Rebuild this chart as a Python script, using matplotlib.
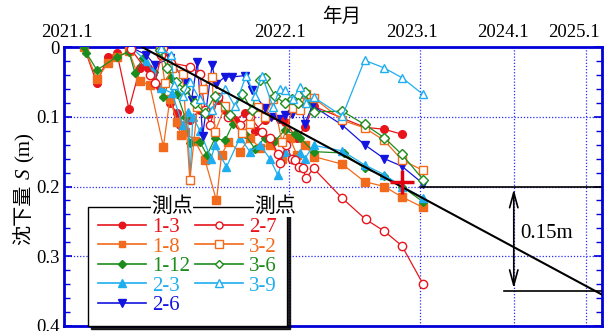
import matplotlib
matplotlib.use("Agg")
import matplotlib.pyplot as plt
from matplotlib.lines import Line2D
from matplotlib.patches import FancyArrowPatch
from matplotlib.ticker import FixedLocator, NullLocator, MultipleLocator
from matplotlib.transforms import ScaledTranslation

plt.rcParams["font.family"] = ["Liberation Serif", "Noto Sans CJK JP"]

# elapsed months since 2021.1 and settlement S (m) for each survey point
t_1_3 = [0.76, 1.28, 1.74, 2.13, 2.66, 3.17, 3.55, 4.13, 4.63, 5.0, 5.16, 5.69, 6.24, 6.7, 7.3, 7.7,
         8.3, 8.96, 9.6, 10.3, 11.34, 11.7, 12.6, 13.2, 13.9, 18.3, 20.2, 22.0]
s_1_3 = [0.0, 0.052, 0.014, 0.009, 0.089, 0.03, 0.03, 0.057, 0.08, 0.095, 0.112, 0.105, 0.09, 0.096, 0.076, 0.09,
         0.105, 0.095, 0.12, 0.105, 0.103, 0.107, 0.131, 0.115, 0.085, 0.115, 0.118, 0.125]

t_1_8 = [0.76, 1.28, 1.74, 2.13, 2.66, 3.17, 3.64, 4.3, 4.63, 5.0, 5.2, 5.42, 5.97, 6.53, 7.2, 7.5,
         7.9, 8.64, 9.28, 9.95, 10.63, 11.5, 12.07, 12.6, 13.2, 13.9, 16.3, 18.3, 20.2, 22.0, 24.3]
s_1_8 = [0.0, 0.046, 0.023, 0.014, 0.006, 0.049, 0.055, 0.143, 0.075, 0.107, 0.126, 0.122, 0.135, 0.162, 0.22, 0.155,
         0.136, 0.15, 0.13, 0.145, 0.14, 0.16, 0.13, 0.155, 0.14, 0.157, 0.168, 0.193, 0.2, 0.215, 0.23]

t_1_12 = [0.76, 0.85, 1.28, 2.13, 2.66, 2.93, 3.3, 3.85, 4.3, 4.63, 5.0, 5.42, 5.69, 6.24, 6.65, 7.11,
          7.71, 8.2, 8.96, 9.61, 10.29, 10.99, 11.7, 12.45, 12.83, 13.9, 16.4, 18.3, 20.2, 22.0, 24.3]
s_1_12 = [0.0, 0.008, 0.033, 0.014, 0.007, 0.037, 0.016, 0.036, 0.072, 0.045, 0.067, 0.1, 0.138, 0.136, 0.155, 0.131,
          0.134, 0.11, 0.125, 0.146, 0.13, 0.135, 0.119, 0.125, 0.13, 0.15, 0.152, 0.174, 0.185, 0.2, 0.222]

t_2_3 = [2.75, 3.45, 3.8, 4.2, 4.74, 5.3, 5.56, 5.69, 5.85, 6.24, 6.88, 7.11, 7.8, 8.64, 9.28, 9.95,
         10.63, 11.2, 11.7, 12.45, 12.83, 13.21, 13.9, 16.3, 18.3, 20.2, 22.0, 24.3]
s_2_3 = [0.0, 0.02, 0.035, 0.059, 0.066, 0.112, 0.093, 0.19, 0.1, 0.12, 0.16, 0.141, 0.172, 0.13, 0.15, 0.14,
         0.16, 0.184, 0.15, 0.16, 0.152, 0.16, 0.141, 0.149, 0.169, 0.183, 0.2, 0.216]

t_2_6 = [2.72, 3.45, 3.88, 4.63, 5.42, 5.78, 6.1, 6.4, 6.94, 7.17, 7.71, 8.13, 8.96, 9.4, 10.29, 10.74,
         11.2, 11.7, 12.22, 12.98, 13.21, 13.8, 16.3, 18.3, 20.2, 22.0, 24.3]
s_2_6 = [0.0, 0.011, 0.026, 0.016, 0.05, 0.076, 0.021, 0.127, 0.026, 0.053, 0.043, 0.043, 0.041, 0.062, 0.088, 0.1,
         0.103, 0.098, 0.096, 0.088, 0.11, 0.084, 0.112, 0.14, 0.16, 0.171, 0.196]

t_2_7 = [2.75, 3.64, 3.88, 4.2, 4.3, 4.7, 5.69, 6.24, 6.53, 6.82, 7.3, 7.9, 8.64, 9.28, 10.1, 10.63,
         11.2, 11.34, 11.8, 12.22, 12.45, 12.75, 13.05, 13.3, 13.9, 16.3, 18.4, 20.2, 22.0, 24.3]
s_2_7 = [0.003, 0.04, 0.052, 0.011, 0.002, 0.023, 0.028, 0.038, 0.09, 0.112, 0.072, 0.1, 0.112, 0.1, 0.122, 0.13,
         0.153, 0.167, 0.14, 0.16, 0.162, 0.172, 0.174, 0.188, 0.174, 0.217, 0.247, 0.264, 0.285, 0.34]

t_3_2 = [4.13, 4.38, 4.74, 5.3, 5.69, 6.1, 6.4, 6.94, 7.11, 7.71, 8.8, 9.28, 9.8, 10.29, 10.85, 11.5,
         12.3, 12.83, 13.3, 13.9, 16.3, 18.3, 20.2, 22.0, 24.3]
s_3_2 = [0.003, 0.052, 0.03, 0.039, 0.191, 0.086, 0.06, 0.043, 0.122, 0.085, 0.124, 0.11, 0.086, 0.1, 0.074, 0.136,
         0.088, 0.09, 0.067, 0.073, 0.105, 0.116, 0.134, 0.162, 0.177]

t_3_6 = [4.13, 4.5, 4.95, 5.42, 5.97, 6.53, 7.11, 8.0, 8.8, 9.4, 9.95, 10.29, 10.99, 11.7, 12.22, 12.7,
         13.2, 13.9, 16.3, 18.3, 20.2, 22.0, 24.3]
s_3_6 = [0.005, 0.03, 0.05, 0.06, 0.08, 0.095, 0.07, 0.098, 0.067, 0.09, 0.048, 0.045, 0.07, 0.081, 0.075, 0.081,
         0.065, 0.093, 0.092, 0.111, 0.13, 0.154, 0.19]

t_3_9 = [4.18, 4.7, 4.84, 5.3, 5.69, 6.24, 6.94, 7.71, 8.32, 9.04, 9.61, 10.1, 10.85, 11.34, 11.7, 12.3,
         12.83, 13.3, 13.9, 16.3, 18.3, 20.2, 22.0, 24.3]
s_3_9 = [0.002, 0.012, 0.055, 0.07, 0.05, 0.075, 0.09, 0.06, 0.085, 0.041, 0.07, 0.041, 0.086, 0.06, 0.062, 0.075,
         0.057, 0.08, 0.072, 0.099, 0.019, 0.03, 0.044, 0.068]

point_names = ["1-3", "1-8", "1-12", "2-3", "2-6", "2-7", "3-2", "3-6", "3-9"]
times = [t_1_3, t_1_8, t_1_12, t_2_3, t_2_6, t_2_7, t_3_2, t_3_6, t_3_9]
settlements = [s_1_3, s_1_8, s_1_12, s_2_3, s_2_6, s_2_7, s_3_2, s_3_6, s_3_9]

# settlement trend line (years since 2020.1, S)
trend_x = [1.2716, 5.25]
trend_s = [0.0, 0.355]
# predicted point
pred_x = [2.833]
pred_s = [0.193]
# allowance band
limit_s = 0.2
final_s = 0.35
limit_start_x = 3.0
final_start_x = 3.878
arrow_x = 4.0

year_ticks = [1, 2, 3, 4, 5]
year_labels = ["2021.1", "2022.1", "2023.1", "2024.1", "2025.1"]
year_label_shift_px = [3, -9, -8, -11, -12]

RED = "#e8141c"
ORANGE = "#f26a1b"
GREEN = "#1c8c1c"
CYAN = "#1eaef0"
BLUE = "#1414e0"
colors = [RED, ORANGE, GREEN, CYAN, BLUE, RED, ORANGE, GREEN, CYAN]
markers = ["o", "s", "D", "^", "v", "o", "s", "D", "^"]
filled = [True, True, True, True, True, False, False, False, False]
sizes = [5.5, 5.5, 4.5, 6, 6, 6, 6, 5, 6]
AX_BLUE = "#0000d8"

fig = plt.figure(figsize=(6.09, 3.31), dpi=100)
ax = fig.add_axes([64 / 609, 1 - 326 / 331, 538 / 609, 279 / 331])

for name, tm, s, c, m, f, ms in zip(point_names, times, settlements, colors, markers, filled, sizes):
    x = [1 + v / 12 for v in tm]
    ax.plot(x, s, color=c, lw=0.9, marker=m, ms=ms, mec=c, mew=1.0,
            mfc=c if f else "white", zorder=3)

ax.plot(trend_x, trend_s, color="black", lw=1.5, zorder=4)
ax.plot([limit_start_x, 5.25], [limit_s, limit_s], color="black", lw=1.2, zorder=4)
ax.plot([final_start_x, 5.25], [final_s, final_s], color="black", lw=1.2, zorder=4)
ax.plot(pred_x, pred_s, marker="+", ms=17, mew=2.5, color="#e00010", ls="none", zorder=6)

arr = FancyArrowPatch((arrow_x, limit_s), (arrow_x, final_s),
                      arrowstyle="<->,head_length=1.1,head_width=0.3",
                      mutation_scale=10, color="black", lw=1.2, zorder=5)
ax.add_patch(arr)
ax.text(4.08, (limit_s + final_s) / 2 - 0.007, "0.15m", fontsize=15, ha="left", va="center")

ax.set_xscale("log")
ax.set_xlim(1, 5.25)
ax.set_ylim(0.4, 0.0)
ax.xaxis.set_major_locator(FixedLocator(year_ticks))
ax.xaxis.set_minor_locator(NullLocator())
ax.set_xticklabels(year_labels)
ax.xaxis.tick_top()
ax.tick_params(axis="x", which="both", length=0, labelsize=13.5, pad=4)

ax.yaxis.set_major_locator(MultipleLocator(0.1))
ax.yaxis.set_minor_locator(MultipleLocator(0.02))
ax.set_yticks([0, 0.1, 0.2, 0.3, 0.4])
ax.set_yticklabels(["0", "0.1", "0.2", "0.3", "0.4"])
ax.tick_params(axis="y", which="major", direction="in", length=6, width=1.2,
               color=AX_BLUE, labelsize=13.5, left=True, right=True, pad=3)
ax.tick_params(axis="y", which="minor", direction="in", length=4, width=1.0,
               color=AX_BLUE, left=True, right=True)

ax.grid(True, which="major", color="#2a2aff", linestyle=(0, (1, 1.5)), linewidth=0.9)
for sp in ax.spines.values():
    sp.set_color(AX_BLUE)
    sp.set_linewidth(2.0)

# year labels sit slightly left of their grid lines
for tick, dx in zip(ax.xaxis.get_major_ticks(), year_label_shift_px):
    lab = tick.label2
    lab.set_transform(lab.get_transform() + ScaledTranslation(dx / 100, 0, fig.dpi_scale_trans))

fig.text(342 / 609, 1 - 17 / 331, "年月", fontsize=14, ha="center", va="center")

# vertical axis title: 沈下量 S (m), with italic S
fig.text(24 / 609, 1 - 215 / 331, "沈下量", fontsize=14.5, rotation=90,
         ha="center", va="center", family="Noto Sans CJK JP")
fig.text(25 / 609, 1 - 174 / 331, "S", fontsize=15, rotation=90, style="italic",
         ha="center", va="center", family="Liberation Serif")
fig.text(25 / 609, 1 - 147 / 331, "(m)", fontsize=15, rotation=90,
         ha="center", va="center", family="Liberation Serif")

handles = []
for c, m, f, ms in zip(colors, markers, filled, sizes):
    handles.append(Line2D([], [], color=c, lw=1.2, marker=m, ms=ms * 0.85, mec=c,
                          mfc=c if f else "white", mew=1.0))
leg = ax.legend(handles, point_names, ncol=2, loc="upper left",
                bbox_to_anchor=(88 / 609, 1 - 207 / 331), bbox_transform=fig.transFigure,
                borderaxespad=0, fontsize=15, handlelength=2.3, handletextpad=0.3,
                columnspacing=0.2, labelspacing=0.0, borderpad=0.5,
                fancybox=False, edgecolor="black", framealpha=1,
                shadow={"ox": 2, "oy": -2, "color": "black", "alpha": 0.85})
leg.get_frame().set_linewidth(1.0)
leg.set_zorder(10)
for txt, c in zip(leg.get_texts(), colors):
    txt.set_color(c)

for cx in (172, 275):
    fig.text(cx / 609, 1 - 207 / 331, "測点", fontsize=15, ha="center", va="center",
             bbox=dict(fc="white", ec="none", pad=0.1), zorder=20)

fig.savefig("out.png", dpi=100)
